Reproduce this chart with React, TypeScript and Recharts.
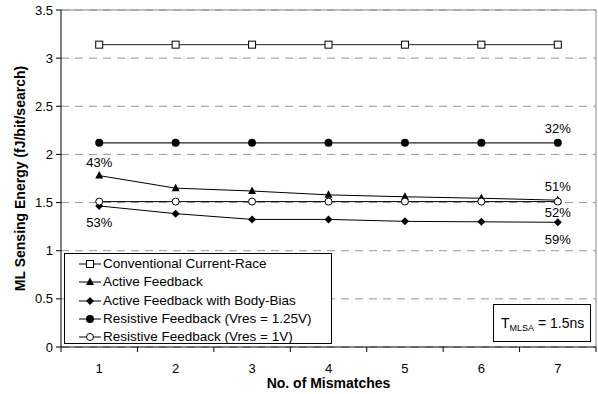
import { LineChart, Line, XAxis, YAxis, CartesianGrid, ReferenceLine, Legend, LabelList } from 'recharts';

const mismatches = [1, 2, 3, 4, 5, 6, 7];
const xTicks = [0.5, 1, 1.5, 2, 2.5, 3, 3.5, 4, 4.5, 5, 5.5, 6, 6.5, 7, 7.5];
const yTicks = [0, 0.5, 1, 1.5, 2, 2.5, 3, 3.5];

const conventional = [3.14, 3.14, 3.14, 3.14, 3.14, 3.14, 3.14];
const active = [1.78, 1.65, 1.62, 1.58, 1.56, 1.545, 1.525];
const bodyBias = [1.465, 1.385, 1.325, 1.325, 1.305, 1.3, 1.295];
const res125 = [2.12, 2.12, 2.12, 2.12, 2.12, 2.12, 2.12];
const res1 = [1.51, 1.51, 1.51, 1.51, 1.51, 1.51, 1.51];

// savings annotations next to the points
const activeNotes = ['43%', '', '', '', '', '', '51%'];
const bodyBiasNotes = ['53%', '', '', '', '', '', '59%'];
const res125Notes = ['', '', '', '', '', '', '32%'];
const res1Notes = ['', '', '', '', '', '', '52%'];

const rows = mismatches.map((m, i) => ({
  m,
  conventional: conventional[i],
  active: active[i],
  bodyBias: bodyBias[i],
  res125: res125[i],
  res1: res1[i],
  activeNote: activeNotes[i],
  bodyBiasNote: bodyBiasNotes[i],
  res125Note: res125Notes[i],
  res1Note: res1Notes[i],
}));

const FONT = '"Liberation Sans", Arial, sans-serif';

type MarkerKind = 'square' | 'triangle' | 'diamond' | 'dot' | 'circle';

function Marker({ kind, cx, cy }: { kind: MarkerKind; cx: number; cy: number }) {
  if (kind === 'square') {
    return <rect x={cx - 3.5} y={cy - 3.5} width={7} height={7} fill="#fff" stroke="#000" strokeWidth={1} />;
  }
  if (kind === 'triangle') {
    return <polygon points={`${cx},${cy - 4.5} ${cx + 4},${cy + 3} ${cx - 4},${cy + 3}`} fill="#000" />;
  }
  if (kind === 'diamond') {
    return <polygon points={`${cx},${cy - 4} ${cx + 4},${cy} ${cx},${cy + 4} ${cx - 4},${cy}`} fill="#000" />;
  }
  if (kind === 'dot') {
    return <circle cx={cx} cy={cy} r={4} fill="#000" />;
  }
  return <circle cx={cx} cy={cy} r={3.5} fill="#fff" stroke="#000" strokeWidth={1} />;
}

const markerDot = (kind: MarkerKind) => (props: any) => {
  const { cx, cy, index } = props;
  if (cx == null || cy == null) return <g key={index} />;
  return (
    <g key={`${kind}-${index}`}>
      <Marker kind={kind} cx={cx} cy={cy} />
    </g>
  );
};

const SERIES: { key: string; name: string; kind: MarkerKind }[] = [
  { key: 'conventional', name: 'Conventional Current-Race', kind: 'square' },
  { key: 'active', name: 'Active Feedback', kind: 'triangle' },
  { key: 'bodyBias', name: 'Active Feedback with Body-Bias', kind: 'diamond' },
  { key: 'res125', name: 'Resistive Feedback (Vres = 1.25V)', kind: 'dot' },
  { key: 'res1', name: 'Resistive Feedback (Vres = 1V)', kind: 'circle' },
];

function XTick(props: any) {
  const { x, y, payload } = props;
  const v = payload.value as number;
  if (v % 1 !== 0) {
    return <line x1={x} x2={x} y1={y} y2={y + 5} stroke="#000" strokeWidth={1} />;
  }
  return (
    <text x={x} y={y + 17} dy="0.71em" textAnchor="middle" fontSize={13} fill="#000">
      {v}
    </text>
  );
}

function LegendBox() {
  return (
    <div
      style={{
        position: 'relative',
        width: 268,
        height: 91,
        border: '1px solid #000',
        background: '#fff',
        fontFamily: FONT,
        fontSize: 13.5,
        color: '#000',
        boxSizing: 'border-box',
      }}
    >
      {SERIES.map((s, i) => (
        <div
          key={s.key}
          style={{
            position: 'absolute',
            left: 0,
            top: 1 + i * 18.25,
            display: 'flex',
            alignItems: 'center',
            height: 18,
            lineHeight: '18px',
          }}
        >
          <svg width={38} height={12} style={{ flex: 'none' }}>
            <line x1={14} x2={36} y1={6} y2={6} stroke="#000" strokeWidth={1} />
            <Marker kind={s.kind} cx={25} cy={6} />
          </svg>
          <span style={{ whiteSpace: 'nowrap' }}>{s.name}</span>
        </div>
      ))}
    </div>
  );
}

export default function App() {
  return (
    <div style={{ position: 'absolute', left: 0, top: 0, width: 598, height: 394, background: '#fff', fontFamily: FONT }}>
      <LineChart width={598} height={394} data={rows} margin={{ top: 10, right: 2, bottom: 0, left: 0 }}>
        <CartesianGrid vertical={false} stroke="#999" strokeDasharray="8 6" />
        <XAxis
          dataKey="m"
          type="number"
          domain={[0.5, 7.5]}
          ticks={xTicks}
          interval={0}
          tickSize={0}
          tickMargin={0}
          tickLine={false}
          axisLine={{ stroke: '#000' }}
          tick={<XTick />}
          height={47}
          label={{
            content: ({ viewBox }: any) => (
              <text
                x={viewBox.x + viewBox.width / 2}
                y={viewBox.y + 41}
                textAnchor="middle"
                fontSize={14}
                fontWeight="bold"
                fill="#000"
              >
                No. of Mismatches
              </text>
            ),
          }}
        />
        <YAxis
          domain={[0, 3.5]}
          ticks={yTicks}
          interval={0}
          width={61}
          tickSize={5}
          tickMargin={3}
          tickLine={{ stroke: '#000' }}
          axisLine={{ stroke: '#000' }}
          tick={{ fill: '#000', fontSize: 13 }}
          label={{
            content: ({ viewBox }: any) => {
              const cx = 25;
              const cy = viewBox.y + viewBox.height / 2;
              return (
                <text
                  x={cx}
                  y={cy}
                  transform={`rotate(-90, ${cx}, ${cy})`}
                  textAnchor="middle"
                  fontSize={14}
                  fontWeight="bold"
                  fill="#000"
                >
                  ML Sensing Energy (fJ/bit/search)
                </text>
              );
            },
          }}
        />
        <ReferenceLine y={3.5} stroke="#888" strokeWidth={1} />
        <ReferenceLine x={7.5} stroke="#888" strokeWidth={1} />

        <Line dataKey="conventional" name={SERIES[0].name} stroke="#222" strokeWidth={1} dot={markerDot('square')} isAnimationActive={false} />
        <Line dataKey="active" name={SERIES[1].name} stroke="#000" strokeWidth={1} dot={markerDot('triangle')} isAnimationActive={false}>
          <LabelList dataKey="activeNote" position="top" offset={9} fontSize={13} fill="#000" />
        </Line>
        <Line dataKey="bodyBias" name={SERIES[2].name} stroke="#000" strokeWidth={1} dot={markerDot('diamond')} isAnimationActive={false}>
          <LabelList dataKey="bodyBiasNote" position="bottom" offset={12} fontSize={13} fill="#000" />
        </Line>
        <Line dataKey="res125" name={SERIES[3].name} stroke="#222" strokeWidth={1.3} dot={markerDot('dot')} isAnimationActive={false}>
          <LabelList dataKey="res125Note" position="top" offset={10} fontSize={13} fill="#000" />
        </Line>
        <Line dataKey="res1" name={SERIES[4].name} stroke="#000" strokeWidth={1} dot={markerDot('circle')} isAnimationActive={false}>
          <LabelList dataKey="res1Note" position="bottom" offset={6} fontSize={13} fill="#000" />
        </Line>

        <Legend
          layout="vertical"
          align="center"
          verticalAlign="middle"
          content={() => <LegendBox />}
          wrapperStyle={{ position: 'absolute', left: 64, top: 253, width: 268, height: 91 }}
        />

        <g>
          <rect x={493.5} y={304.5} width={97} height={37} fill="#fff" stroke="#000" strokeWidth={1} />
          <text x={501} y={328} fontSize={14} fill="#000">
            T<tspan fontSize={9} dy={3}>MLSA</tspan>
            <tspan dy={-3} fontSize={14}> = 1.5ns</tspan>
          </text>
        </g>
      </LineChart>
    </div>
  );
}
